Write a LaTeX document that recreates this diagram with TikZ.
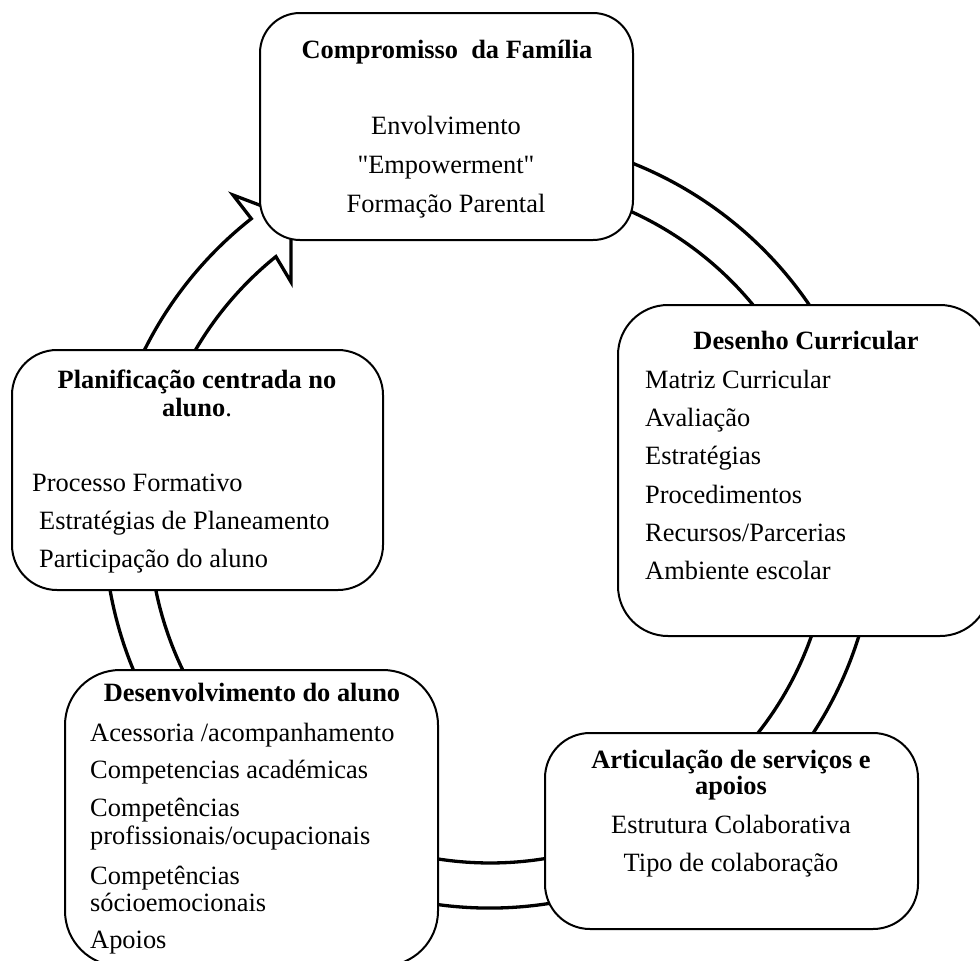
\documentclass[tikz,border=0pt]{standalone}
\usepackage{fontspec}
\setmainfont{Liberation Serif}
\newfontfamily\qfont{Liberation Serif}
\begin{document}
\begin{tikzpicture}[x=1pt,y=-1pt,
  box/.style={draw, line width=2pt, fill=white, rounded corners=#1, inner sep=0pt},
  ttl/.style={font=\fontsize{26.4}{29}\selectfont\bfseries, text height=18pt, text depth=6pt, inner sep=0pt},
  itm/.style={font=\fontsize{26.4}{29}\selectfont, text height=18pt, text depth=6pt, inner sep=0pt},
  band/.style={draw, line width=3.3pt, line join=miter}]
\clip (0,0) rectangle (980,961);
\coordinate (C) at (490,522);
\coordinate (ob) at (233,195);
\coordinate (tip) at (291,217);
\coordinate (ib) at (291,282);
\coordinate (in) at (275.9,256.6);
% circular arrow band
\draw[band] (C) ++(-100:386) arc[start angle=-100, end angle=231.8, radius=386]
  -- (ob) -- (tip) -- (ib) -- (in)
  arc[start angle=231.1, end angle=-100, radius=341] -- cycle;

% boxes
\node[box=40pt, minimum width=373pt, minimum height=227pt] (fam) at (446.5,126.5) {};
\node[box=50pt, minimum width=372pt, minimum height=331pt] (des) at (804,470.5) {};
\node[box=45pt, minimum width=371pt, minimum height=240pt] (pla) at (197.5,470) {};
\node[box=55pt, minimum width=373pt, minimum height=296pt] (dev) at (251.5,818) {};
\node[box=45pt, minimum width=373pt, minimum height=196pt] (art) at (731.5,831) {};

% Compromisso da Família
\node[ttl] (famT) at (447,52) {Compromisso~~da Família};
\node[itm] (fam1) at (446,128) {Envolvimento};
\node[itm] (fam2) at (446,167) {\qfont "Empowerment"};
\node[itm] (fam3) at (446,206) {Formação Parental};

% Desenho Curricular
\node[ttl] (desT) at (806,343) {Desenho Curricular};
\node[itm, anchor=west] (des1) at (645,382) {Matriz Curricular};
\node[itm, anchor=west] (des2) at (645,420) {Avaliação};
\node[itm, anchor=west] (des3) at (645,458) {Estratégias};
\node[itm, anchor=west] (des4) at (645,497) {Procedimentos};
\node[itm, anchor=west] (des5) at (645,535) {Recursos/Parcerias};
\node[itm, anchor=west] (des6) at (645,573) {Ambiente escolar};

% Planificação centrada no aluno
\node[ttl] (plaT1) at (197,382) {Planificação centrada no};
\node[ttl] (plaT2) at (197,410) {aluno{\mdseries .}};
\node[itm, anchor=west] (pla1) at (32,485) {Processo Formativo};
\node[itm, anchor=west] (pla2) at (39,523) {Estratégias de Planeamento};
\node[itm, anchor=west] (pla3) at (39,561) {Participação do aluno};

% Desenvolvimento do aluno
\node[ttl] (devT) at (252,695) {Desenvolvimento do aluno};
\node[itm, anchor=west] (dev1) at (90,735) {Acessoria /acompanhamento};
\node[itm, anchor=west] (dev2) at (90,772) {Competencias académicas};
\node[itm, anchor=west] (dev3) at (90,810) {Competências};
\node[itm, anchor=west] (dev4) at (90,838) {profissionais/ocupacionais};
\node[itm, anchor=west] (dev5) at (90,878) {Competências};
\node[itm, anchor=west] (dev6) at (90,905) {sócioemocionais};
\node[itm, anchor=west] (dev7) at (90,942) {Apoios};

% Articulação de serviços e apoios
\node[ttl] (artT1) at (731,762) {Articulação de serviços e};
\node[ttl] (artT2) at (731,788) {apoios};
\node[itm] (art1) at (731,827) {Estrutura Colaborativa};
\node[itm] (art2) at (731,865) {Tipo de colaboração};
\end{tikzpicture}
\end{document}
